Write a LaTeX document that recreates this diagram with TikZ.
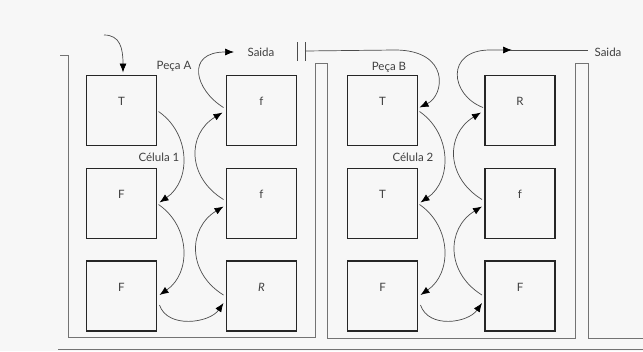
\documentclass[tikz,border=0pt]{standalone}
\usepackage{fontspec}
\setmainfont{Lato}
\usetikzlibrary{arrows.meta,calc}
\begin{document}
\begin{tikzpicture}[x=1pt,y=-1pt,
  lbl/.style={text=black!75,font=\fontsize{11.5}{13}\selectfont,inner sep=1pt},
  station/.style={draw=black!85,line width=1.4pt,minimum size=70pt,inner sep=0pt,outer sep=0pt,
    label={[lbl,anchor=center,yshift=-26pt]north:#1}},
  flow/.style={draw=black!70,line width=0.7pt,-{Latex[length=9pt,width=7pt,fill=black,color=black]}},
  plain/.style={draw=black!70,line width=0.7pt},
  wall/.style={draw=black!55,line width=0.8pt}]
\fill[black!3] (0,0) rectangle (643,351);
\useasboundingbox (0,0) rectangle (643,351);

% cell walls
\draw[wall] (60,55) -- (68,55) -- (68,337) -- (315,337) -- (315,63) -- (327,63)
  -- (327,338) -- (575,338) -- (575,63) -- (588,63) -- (588,338) -- (643,338);
\draw[wall,line width=1pt] (58,349) -- (643,349);

% stations, cell 1
\node[station=T] (a1) at (121.5,110.5) {};
\node[station=F] (a2) at (121.5,203.5) {};
\node[station=F] (a3) at (121.5,296) {};
\node[station=f] (a4) at (261.5,110.5) {};
\node[station=f] (a5) at (261.5,203.5) {};
\node[station={\itshape R}] (a6) at (261.5,296) {};
% stations, cell 2
\node[station=T] (b1) at (382.5,110.5) {};
\node[station=T] (b2) at (382.5,203.5) {};
\node[station=F] (b3) at (382.5,296) {};
\node[station=R] (b4) at (520,110.5) {};
\node[station=f] (b5) at (520,203.5) {};
\node[station=F] (b6) at (520,296) {};

% texts
\node[lbl] (pA) at (174,66) {Peça A};
\node[lbl] (sA) at (261,52) {Saida};
\node[lbl] (c1) at (159,157) {Célula 1};
\node[lbl] (pB) at (389,67) {Peça B};
\node[lbl] (c2) at (413,157) {Célula 2};
\node[lbl] (sB) at (608,52) {Saida};

% free ends
\coordinate (inA) at (104,35);
\coordinate (outA) at (234,52);
\coordinate (gate) at (305,51);
\coordinate (outB) at (588,50);

% gate mark between the cells
\draw[plain] (297,42) -- (297,61) (305,42) -- (305,61);

% flow in cell 1
\draw[flow] (inA) .. controls (120,35) and (123,48) .. ($(a1.north)+(1.5,-3)$);
\draw[flow] ($(a1.east)+(2,1)$) .. controls +(32,22) and +(32,-22) .. ($(a2.east)+(3,-1)$);
\draw[flow] ($(a2.east)+(2,1)$) .. controls +(32,22) and +(32,-22) .. ($(a3.east)+(3,-1)$);
\draw[flow] ($(a3.east)+(3,9)$) .. controls +(8,24) and +(-14,20) .. ($(a6.west)+(-3,7)$);
\draw[flow] ($(a6.west)+(-3,-1)$) .. controls +(-36,-22) and +(-36,22) .. ($(a5.west)+(-3,3)$);
\draw[flow] ($(a5.west)+(-3,-4)$) .. controls +(-36,-22) and +(-36,22) .. ($(a4.west)+(-4,2)$);
\draw[flow] ($(a4.west)+(-3,-3)$) .. controls (195,90) and (185,52) .. (outA);

% flow in cell 2
\draw[flow] (gate) -- (395,50) .. controls (450,50) and (445,95) .. ($(b1.east)+(2,-3)$);
\draw[flow] ($(b1.east)+(2,1)$) .. controls +(32,22) and +(32,-22) .. ($(b2.east)+(3,-1)$);
\draw[flow] ($(b2.east)+(2,1)$) .. controls +(32,22) and +(32,-22) .. ($(b3.east)+(3,-1)$);
\draw[flow] ($(b3.east)+(3,9)$) .. controls +(8,24) and +(-14,20) .. ($(b6.west)+(-3,7)$);
\draw[flow] ($(b6.west)+(-3,-1)$) .. controls +(-36,-22) and +(-36,22) .. ($(b5.west)+(-3,3)$);
\draw[flow] ($(b5.west)+(-3,-4)$) .. controls +(-36,-22) and +(-36,22) .. ($(b4.west)+(-4,2)$);
\draw[flow] ($(b4.west)+(-2,-3)$) .. controls (450,95) and (445,50) .. (490,50) -- (512,50);
\draw[plain] (510,50) -- (outB);
\end{tikzpicture}
\end{document}
